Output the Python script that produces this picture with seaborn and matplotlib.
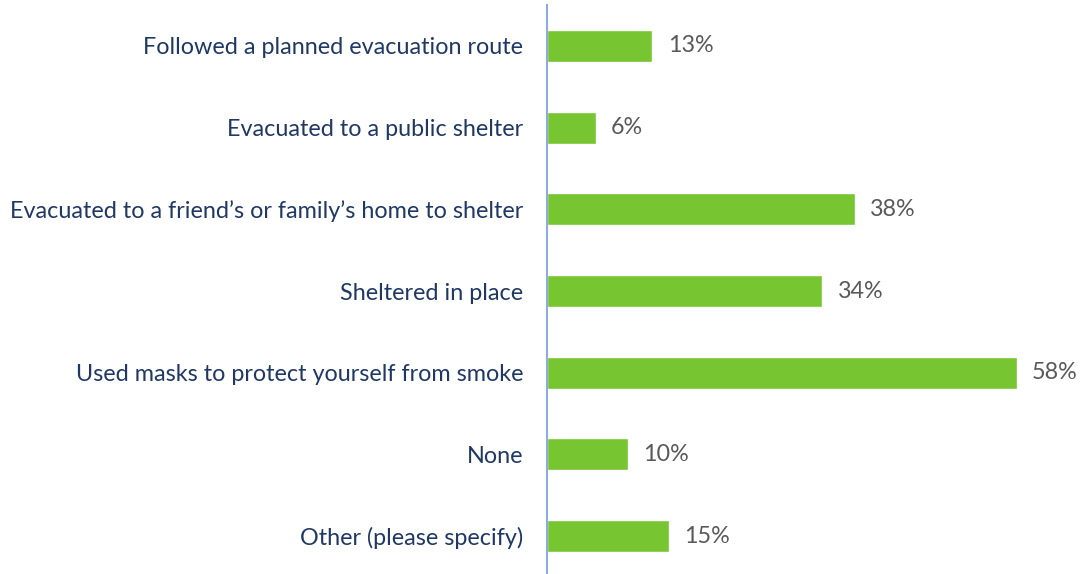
import matplotlib
matplotlib.use("Agg")
import matplotlib.pyplot as plt
import seaborn as sns
import pandas as pd

categories = [
    "Followed a planned evacuation route",
    "Evacuated to a public shelter",
    "Evacuated to a friend\u2019s or family\u2019s home to shelter",
    "Sheltered in place",
    "Used masks to protect yourself from smoke",
    "None",
    "Other (please specify)",
]
percent = [13, 6, 38, 34, 58, 10, 15]

df = pd.DataFrame({"action": categories, "pct": percent})

sns.set_theme(style="white")
plt.rcParams["font.family"] = ["Lato", "DejaVu Sans"]

W, H = 1081, 574
fig = plt.figure(figsize=(W / 100, H / 100), dpi=100)
ax = fig.add_axes([547 / W, -3 / H, (W - 547) / W, 572 / H])

sns.barplot(data=df, x="pct", y="action", orient="h", color="#77C530",
            saturation=1, width=0.39, ax=ax, order=categories)

ax.set_xlim(0, (W - 547) / 8.1)
ax.set_ylim(len(categories) - 0.5, -0.5)
ax.set_xlabel("")
ax.set_ylabel("")
ax.set_xticks([])
for s in ["top", "right", "bottom"]:
    ax.spines[s].set_visible(False)
ax.spines["left"].set_color("#8FAADC")
ax.spines["left"].set_linewidth(1.5)

ax.tick_params(axis="y", length=0, pad=17, labelsize=16.8, labelcolor="#1F3864")

for i, v in enumerate(percent):
    ax.text(v + 1.9, i, f"{v}%", va="center", ha="left",
            fontsize=16.8, color="#595959")

fig.savefig("out.png", dpi=100)
